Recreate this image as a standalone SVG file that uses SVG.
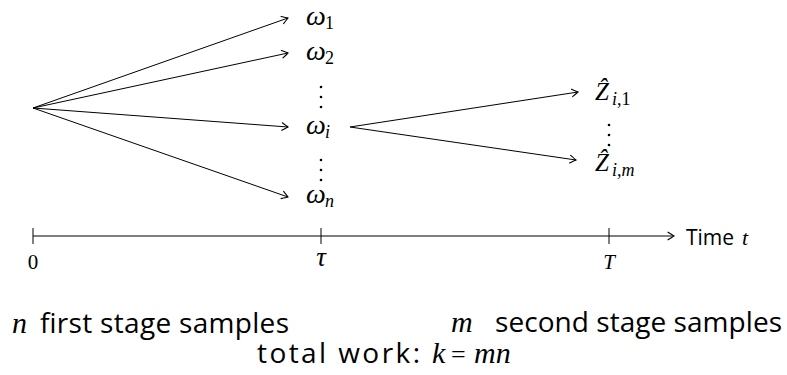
<svg xmlns="http://www.w3.org/2000/svg" width="787" height="375" viewBox="0 0 787 375">
  <style>
    .edge { fill: none; stroke: #000; stroke-width: 1; }
    .tick { fill: none; stroke: #000; stroke-width: 1; }
    .math { font-family: "Liberation Serif", "DejaVu Serif", serif; font-style: italic; fill: #000; }
    .rm { font-family: "Liberation Serif", "DejaVu Serif", serif; fill: #000; }
    .sans { font-family: "Open Sans", "Noto Sans", "Liberation Sans", sans-serif; fill: #000; }
    .dot { fill: #000; }
  </style>
  <defs>
    <marker id="arr" viewBox="-7 -5 9 10" refX="0" refY="0" markerWidth="9" markerHeight="10" markerUnits="userSpaceOnUse" orient="auto">
      <path d="M -6 -3.8 Q -1.5 -1 0 0 Q -1.5 1 -6 3.8" fill="none" stroke="#000" stroke-width="1.1" stroke-linecap="round"/>
    </marker>
  </defs>

  <g id="connectors">
    <line class="edge" x1="33" y1="108" x2="288" y2="18" marker-end="url(#arr)"/>
    <line class="edge" x1="33" y1="108" x2="288" y2="53" marker-end="url(#arr)"/>
    <line class="edge" x1="33" y1="108" x2="288" y2="127" marker-end="url(#arr)"/>
    <line class="edge" x1="33" y1="108" x2="288" y2="197" marker-end="url(#arr)"/>
    <line class="edge" x1="350" y1="127" x2="578" y2="92" marker-end="url(#arr)"/>
    <line class="edge" x1="350" y1="127" x2="576" y2="160" marker-end="url(#arr)"/>
  </g>

  <g id="omega1">
    <text class="math" x="306" y="25" font-size="28">ω</text>
    <text class="rm" x="325" y="29" font-size="18">1</text>
  </g>
  <g id="omega2">
    <text class="math" x="306" y="60" font-size="28">ω</text>
    <text class="rm" x="325" y="64" font-size="18">2</text>
  </g>
  <g id="vdots1">
    <circle class="dot" cx="321" cy="87" r="1.3"/>
    <circle class="dot" cx="321" cy="97" r="1.3"/>
    <circle class="dot" cx="321" cy="107" r="1.3"/>
  </g>
  <g id="omegai">
    <text class="math" x="306" y="134" font-size="28">ω</text>
    <text class="math" x="325" y="138" font-size="18">i</text>
  </g>
  <g id="vdots2">
    <circle class="dot" cx="321" cy="160" r="1.3"/>
    <circle class="dot" cx="321" cy="170" r="1.3"/>
    <circle class="dot" cx="321" cy="180" r="1.3"/>
  </g>
  <g id="omegan">
    <text class="math" x="306" y="203" font-size="28">ω</text>
    <text class="math" x="325" y="207" font-size="18">n</text>
  </g>

  <g id="Z1">
    <text class="math" x="595" y="100" font-size="25">Ẑ</text>
    <text class="math" x="612" y="105" font-size="18">i<tspan font-style="normal">,1</tspan></text>
  </g>
  <g id="vdots3">
    <circle class="dot" cx="609" cy="125" r="1.3"/>
    <circle class="dot" cx="609" cy="135" r="1.3"/>
    <circle class="dot" cx="609" cy="145" r="1.3"/>
  </g>
  <g id="Zm">
    <text class="math" x="595" y="171" font-size="25">Ẑ</text>
    <text class="math" x="612" y="176" font-size="18">i<tspan font-style="normal">,</tspan>m</text>
  </g>

  <g id="axis">
    <line class="edge" x1="33" y1="236" x2="674" y2="236" marker-end="url(#arr)"/>
    <line class="tick" x1="33" y1="228" x2="33" y2="244"/>
    <line class="tick" x1="321" y1="228" x2="321" y2="244"/>
    <line class="tick" x1="609" y1="228" x2="609" y2="244"/>
    <text class="rm" x="33" y="269" font-size="21" text-anchor="middle">0</text>
    <text class="math" x="321" y="266" font-size="27" text-anchor="middle">τ</text>
    <text class="math" x="609" y="269" font-size="21" text-anchor="middle">T</text>
    <text class="sans" x="686" y="245" font-size="21">Time</text>
    <text class="math" x="742" y="245" font-size="22">t</text>
  </g>

  <g id="captions">
    <text class="math" x="12" y="333" font-size="30">n</text>
    <text class="sans" x="40" y="333" font-size="28" textLength="249">first stage samples</text>
    <text class="math" x="451" y="332" font-size="30">m</text>
    <text class="sans" x="495" y="332" font-size="28" textLength="287">second stage samples</text>
    <text class="sans" x="257" y="363" font-size="28" textLength="163">total work:</text>
    <text class="math" x="432" y="363" font-size="30">k</text>
    <text class="rm" x="451" y="363" font-size="26">=</text>
    <text class="math" x="474" y="363" font-size="30">mn</text>
  </g>
</svg>
